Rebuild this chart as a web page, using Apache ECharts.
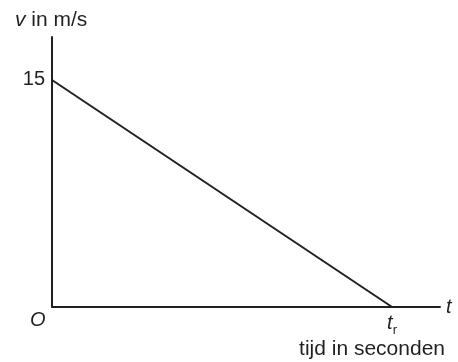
<!DOCTYPE html>
<html>
<head>
<meta charset="utf-8">
<script src="https://cdn.jsdelivr.net/npm/echarts@6/dist/echarts.min.js"></script>
<style>
    html, body { margin: 0; padding: 0; background: #fff; }
    #chart { width: 458px; height: 362px; }
</style>
</head>
<body>
<div id="chart"></div>
<script>
// tijd (in eenheden van t_r) en snelheid in m/s
const times = [0, 1];
const speeds = [15, 0];
const yTicks = [15];
const xTicks = [1];

const font = '"Liberation Sans", Arial, sans-serif';
const ink = '#231f20';

const chart = echarts.init(document.getElementById('chart'));
chart.setOption({
    animation: false,
    grid: {left: 52, right: 18, top: 37, bottom: 55},
    xAxis: {
        type: 'value',
        min: 0,
        max: 1.141,
        interval: 1,
        name: 't',
        nameLocation: 'end',
        nameGap: 6,
        nameTextStyle: {fontFamily: font, fontSize: 20, fontStyle: 'italic', color: ink, padding: [0, 0, 4, 0]},
        axisLine: {lineStyle: {color: ink, width: 2}},
        axisTick: {show: false},
        splitLine: {show: false},
        axisLabel: {
            margin: 3,
            showMinLabel: false,
            formatter: (v) => (xTicks.indexOf(v) >= 0 ? '{t|t}{r|r}' : ''),
            rich: {
                t: {fontFamily: font, fontSize: 20, fontStyle: 'italic', color: ink},
                r: {fontFamily: font, fontSize: 13, color: ink, padding: [14, 0, 0, 0]},
            },
        },
    },
    yAxis: {
        type: 'value',
        min: 0,
        max: 17.84,
        interval: 15,
        name: '{v|v} in m/s',
        nameLocation: 'end',
        nameGap: 6,
        nameTextStyle: {
            fontFamily: font, fontSize: 21, color: ink, align: 'left', padding: [0, 0, 0, -37],
            rich: {v: {fontFamily: font, fontSize: 21, fontStyle: 'italic', color: ink}},
        },
        axisLine: {show: true, lineStyle: {color: ink, width: 2}},
        axisTick: {show: false},
        splitLine: {show: false},
        axisLabel: {
            margin: 7,
            fontFamily: font,
            fontSize: 20,
            color: ink,
            formatter: (v) => (yTicks.indexOf(v) >= 0 ? String(v) : ''),
        },
    },
    graphic: [
        {type: 'text', left: 30, top: 310, style: {text: 'O', font: 'italic 20px ' + font, fill: ink}},
        {type: 'text', right: 13, top: 339, style: {text: 'tijd in seconden', font: '21px ' + font, fill: ink}},
    ],
    series: [{
        type: 'line',
        data: times.map((t, i) => [t, speeds[i]]),
        symbol: 'none',
        lineStyle: {color: ink, width: 2},
    }],
});
</script>
</body>
</html>
